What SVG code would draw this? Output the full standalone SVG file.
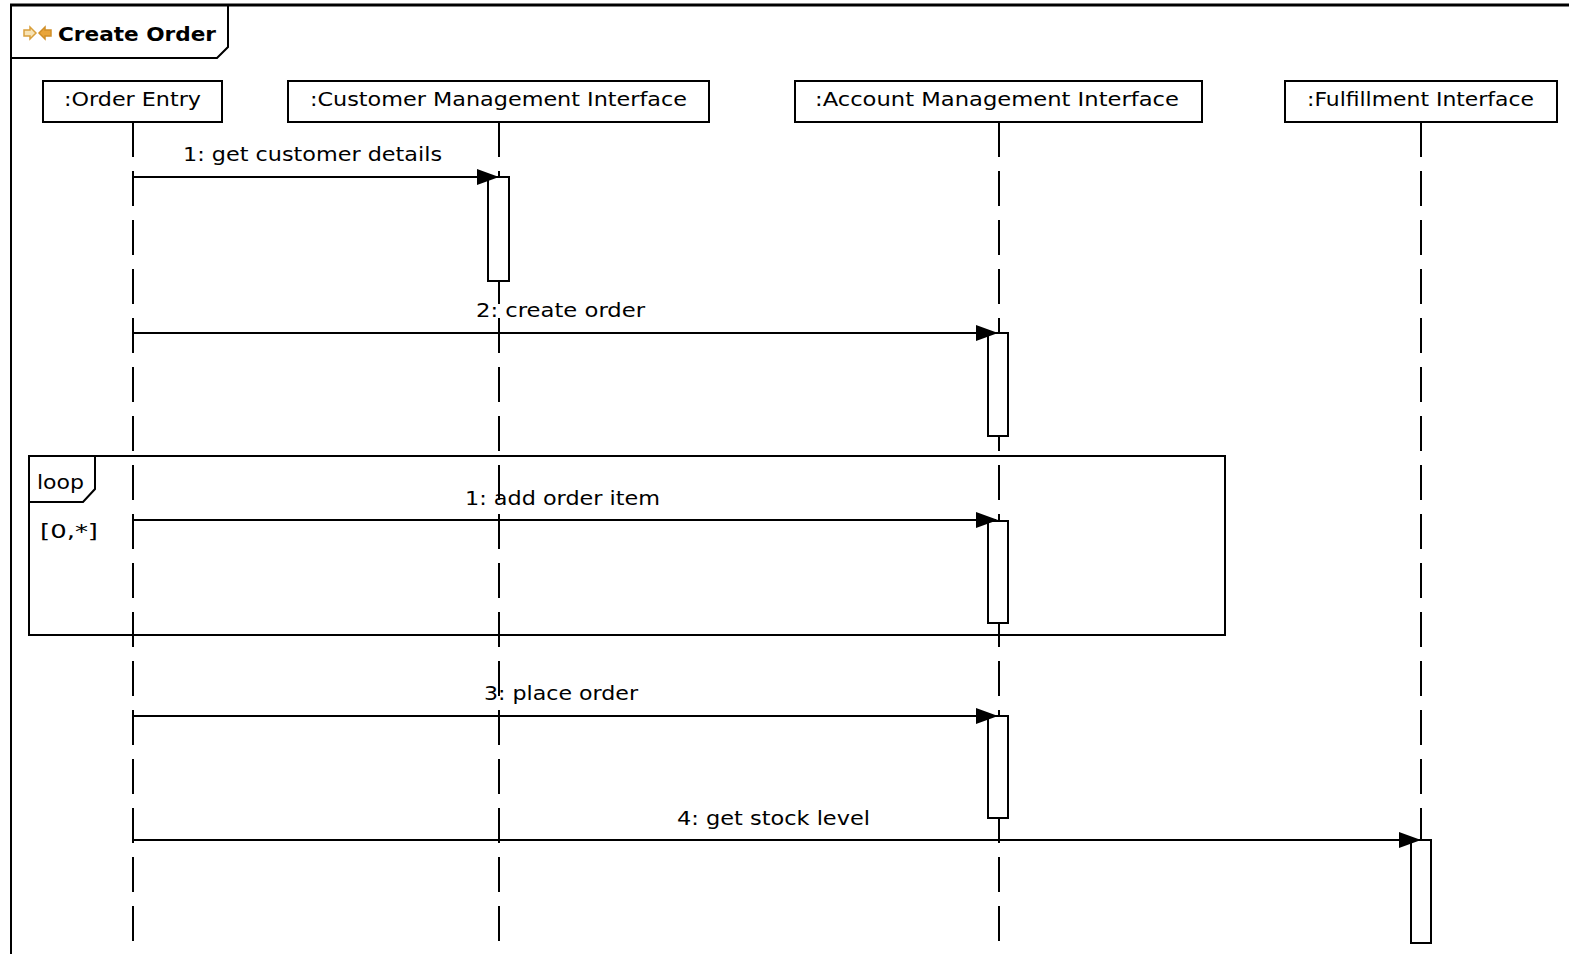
<svg xmlns="http://www.w3.org/2000/svg" width="1569" height="954" viewBox="0 0 1569 954">
  <style>
    text { font-family: "DejaVu Sans", "Liberation Sans", sans-serif; font-size: 20px; fill: #000; }
    .title { font-weight: bold; }
    .box { fill: #fff; stroke: #000; stroke-width: 2; }
    .life { stroke: #000; stroke-width: 2; stroke-dasharray: 35 14; fill: none; }
    .act { fill: #fff; stroke: #000; stroke-width: 2; }
    .msg { stroke: #000; stroke-width: 2; fill: none; }
    .frame { fill: none; stroke: #000; stroke-width: 2; }
  </style>
  <defs>
    <marker id="arrow" markerWidth="22" markerHeight="16" refX="20" refY="8" orient="auto" markerUnits="userSpaceOnUse">
      <polygon points="0,0 22,8 0,16" fill="#000"/>
    </marker>
  </defs>

  <rect x="0" y="0" width="1569" height="954" fill="#fff"/>

  <!-- diagram frame with name tab -->
  <g id="frame">
    <line x1="10" y1="5" x2="1569" y2="5" stroke="#000" stroke-width="3"/>
    <line x1="11" y1="4" x2="11" y2="954" stroke="#000" stroke-width="2"/>
    <polyline class="frame" points="11,58 217,58 228,47 228,5"/>
    <polygon points="36,33 30,27 30,30 24,30 24,36 30,36 30,39" fill="#f7e3b5" stroke="#d9a03c" stroke-width="1.5"/>
    <polygon points="39,33 45,27 45,30 51,30 51,36 45,36 45,39" fill="#e9a53a" stroke="#d08f28" stroke-width="1.5"/>
    <text class="title" x="58" y="41" textLength="158" lengthAdjust="spacingAndGlyphs">Create Order</text>
  </g>

  <!-- lifelines -->
  <g id="lifelines">
    <line class="life" x1="133" y1="122" x2="133" y2="954"/>
    <line class="life" x1="499" y1="122" x2="499" y2="954"/>
    <line class="life" x1="999" y1="122" x2="999" y2="954"/>
    <line class="life" x1="1421" y1="122" x2="1421" y2="954"/>
  </g>

  <g id="order-entry">
    <rect class="box" x="43" y="81" width="179" height="41"/>
    <text x="64" y="106" textLength="137" lengthAdjust="spacingAndGlyphs">:Order Entry</text>
  </g>
  <g id="customer-management">
    <rect class="box" x="288" y="81" width="421" height="41"/>
    <text x="310" y="106" textLength="377" lengthAdjust="spacingAndGlyphs">:Customer Management Interface</text>
  </g>
  <g id="account-management">
    <rect class="box" x="795" y="81" width="407" height="41"/>
    <text x="815" y="106" textLength="364" lengthAdjust="spacingAndGlyphs">:Account Management Interface</text>
  </g>
  <g id="fulfillment">
    <rect class="box" x="1285" y="81" width="272" height="41"/>
    <text x="1307" y="106" textLength="227" lengthAdjust="spacingAndGlyphs">:Fulfillment Interface</text>
  </g>

  <!-- loop combined fragment -->
  <g id="loop">
    <rect class="frame" x="29" y="456" width="1196" height="179"/>
    <polyline class="frame" points="29,502 83,502 95,489 95,456"/>
    <text x="37" y="489" textLength="47" lengthAdjust="spacingAndGlyphs">loop</text>
    <text x="40" y="538" textLength="58" lengthAdjust="spacingAndGlyphs">[0,*]</text>
  </g>

  <!-- activation bars -->
  <g id="activations">
    <rect class="act" x="488" y="177" width="21" height="104"/>
    <rect class="act" x="988" y="333" width="20" height="103"/>
    <rect class="act" x="988" y="521" width="20" height="102"/>
    <rect class="act" x="988" y="716" width="20" height="102"/>
    <rect class="act" x="1411" y="840" width="20" height="103"/>
  </g>

  <!-- messages -->
  <g id="connectors">
    <line class="msg" x1="133" y1="177" x2="497" y2="177" marker-end="url(#arrow)"/>
    <text x="183" y="161" textLength="259" lengthAdjust="spacingAndGlyphs">1: get customer details</text>

    <line class="msg" x1="133" y1="333" x2="996" y2="333" marker-end="url(#arrow)"/>
    <text x="476" y="317" textLength="169" lengthAdjust="spacingAndGlyphs">2: create order</text>

    <line class="msg" x1="133" y1="520" x2="996" y2="520" marker-end="url(#arrow)"/>
    <text x="465" y="505" textLength="195" lengthAdjust="spacingAndGlyphs">1: add order item</text>

    <line class="msg" x1="133" y1="716" x2="996" y2="716" marker-end="url(#arrow)"/>
    <text x="484" y="700" textLength="154" lengthAdjust="spacingAndGlyphs">3: place order</text>

    <line class="msg" x1="133" y1="840" x2="1419" y2="840" marker-end="url(#arrow)"/>
    <text x="677" y="825" textLength="193" lengthAdjust="spacingAndGlyphs">4: get stock level</text>
  </g>
</svg>
